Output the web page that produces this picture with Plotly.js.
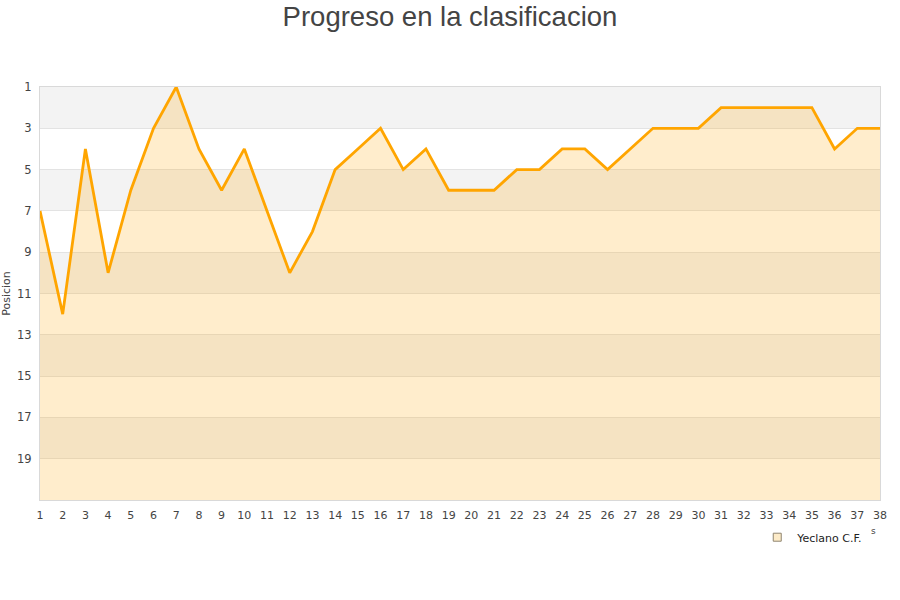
<!DOCTYPE html>
<html>
<head>
<meta charset="utf-8">
<script src="https://cdn.plot.ly/plotly-3.0.1.min.js"></script>
<style>html,body{margin:0;padding:0;background:#fff}#chart{width:900px;height:600px}</style>
</head>
<body>
<div id="chart"></div>
<script>
const jornadas = [1,2,3,4,5,6,7,8,9,10,11,12,13,14,15,16,17,18,19,20,21,22,23,24,25,26,27,28,29,30,31,32,33,34,35,36,37,38];
const posicion = [7,12,4,10,6,3,1,4,6,4,7,10,8,5,4,3,5,4,6,6,6,5,5,4,4,5,4,3,3,3,2,2,2,2,2,4,3,3];
const teamName = "Yeclano C.F.";
const yTicks = [1,3,5,7,9,11,13,15,17,19];
const bandStarts = [1,5,9,13,17];
const bottomPos = 21;

const baseline = jornadas.map(() => bottomPos);

const shapes = bandStarts.map(s => ({
  type: 'rect', xref: 'paper', yref: 'y', x0: 0, x1: 1, y0: s, y1: s + 2,
  fillcolor: '#f3f3f3', line: {width: 0}, layer: 'below'
}));

const traces = [
  {x: jornadas, y: baseline, mode: 'lines', line: {width: 0}, showlegend: false, hoverinfo: 'skip'},
  {x: jornadas, y: posicion, mode: 'lines', name: teamName, fill: 'tonexty', showlegend: false,
   fillcolor: 'rgba(255,165,0,0.2)', line: {color: '#ffa500', width: 2.8}},
  {x: [null], y: [null], mode: 'markers', name: teamName, showlegend: true,
   marker: {symbol: 'square', size: 8, color: '#fdebc8', line: {color: '#8f8470', width: 1}}}
];

const layout = {
  width: 900, height: 600,
  margin: {l: 40, r: 20, t: 87, b: 100},
  paper_bgcolor: '#fff', plot_bgcolor: '#fff',
  font: {family: 'DejaVu Sans', size: 11, color: '#444'},
  title: {text: 'Progreso en la clasificacion', font: {family: 'Liberation Sans', size: 27.5, color: '#444'}, x: 0.5, xanchor: 'center', y: 0.988, yanchor: 'top'},
  xaxis: {range: [1, 38], tickvals: jornadas, ticktext: jornadas.map(String), showgrid: false, zeroline: false,
          showline: true, linecolor: '#d9d9d9', mirror: true, ticks: 'outside', ticklen: 5, tickcolor: 'rgba(0,0,0,0)',
          tickfont: {size: 11, color: '#444'}},
  yaxis: {range: [bottomPos, 1], tickvals: yTicks, showgrid: true, gridcolor: '#e3e3e3', zeroline: false,
          showline: true, linecolor: '#d9d9d9', mirror: true, ticks: 'outside', ticklen: 5, tickcolor: 'rgba(0,0,0,0)',
          tickfont: {size: 11.5, color: '#444'},
          title: {text: 'Posicion', font: {size: 11, color: '#444'}, standoff: 8}},
  shapes: shapes,
  annotations: [{text: 's', xref: 'paper', yref: 'paper', x: 0.9976, y: -0.075, yanchor: 'middle', showarrow: false, font: {size: 9, color: '#444'}}],
  showlegend: true,
  legend: {orientation: 'h', x: 0.986, xanchor: 'right', y: -0.055, yanchor: 'top', font: {size: 11, color: '#222'}, itemwidth: 30}
};

Plotly.newPlot('chart', traces, layout, {displayModeBar: false, staticPlot: true});
</script>
</body>
</html>
